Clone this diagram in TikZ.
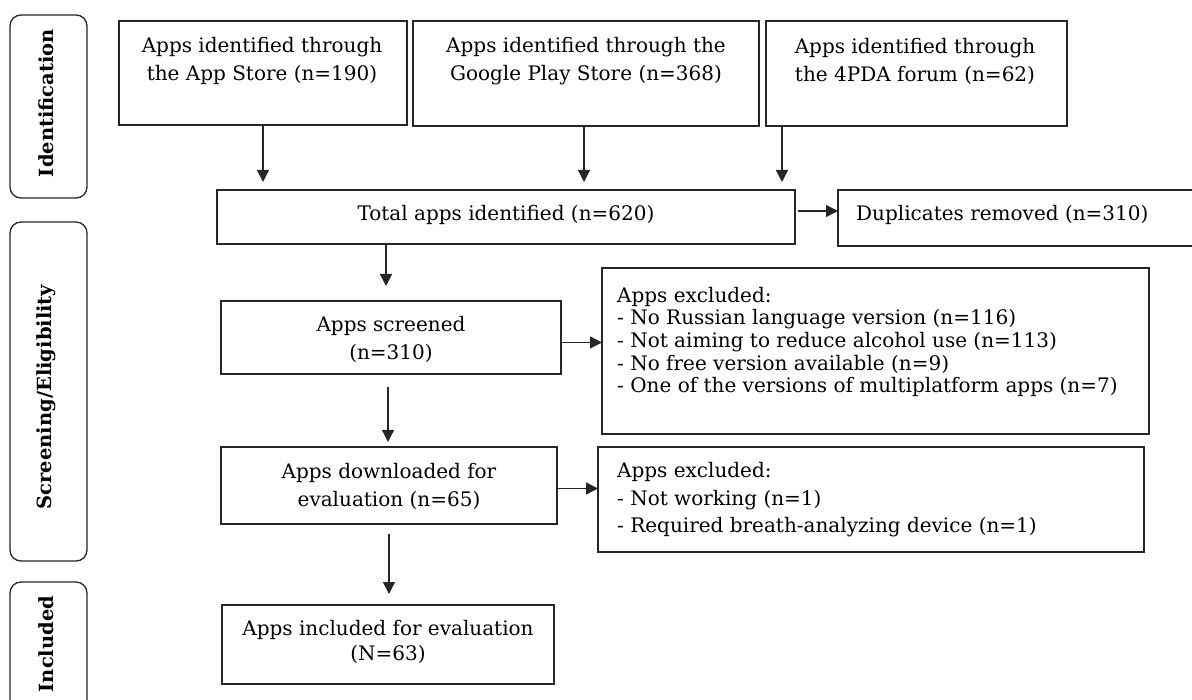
\documentclass[tikz,border=0pt]{standalone}
\usepackage{fontspec}
\setmainfont{DejaVu Serif}
\usetikzlibrary{arrows.meta}
\begin{document}
\begin{tikzpicture}[x=1pt,y=-1pt,
  box/.style={draw=black!85, line width=1.3pt, inner sep=0pt, outer sep=0pt, anchor=north west},
  phase/.style={box, rounded corners=11pt},
  txt/.style={inner sep=0pt, align=center, font=\fontsize{20}{28}\selectfont},
  ltxt/.style={inner sep=0pt, align=left, anchor=west, font=\fontsize{20}{28}\selectfont},
  ptxt/.style={inner sep=0pt, rotate=90, font=\fontsize{19.5}{24}\selectfont\bfseries},
  arr/.style={line width=1.3pt, draw=black!85, -{Triangle[length=12pt,width=12pt]}}]
\clip (0,0) rectangle (1192,700);
\fill[white] (0,0) rectangle (1192,700);
% phase boxes
\node[phase, minimum width=77pt, minimum height=183pt] (p1) at (10,15) {};
\node[ptxt] (p1t) at (46,103) {Identification};
\node[phase, minimum width=77pt, minimum height=339pt] (p2) at (10,222) {};
\node[ptxt] (p2t) at (46,397) {Screening/Eligibility};
\node[phase, minimum width=77pt, minimum height=140pt] (p3) at (10,582) {};
\node[ptxt] (p3t) at (46,644) {Included};
% identification boxes
\node[box, minimum width=288pt, minimum height=104pt] (b1) at (119,21) {};
\node[txt] (b1t) at (262,61) {Apps identified through\\the App Store (n=190)};
\node[box, minimum width=346pt, minimum height=105pt] (b2) at (413,21) {};
\node[txt] (b2t) at (586,61) {Apps identified through the\\Google Play Store (n=368)};
\node[box, minimum width=301pt, minimum height=105pt] (b3) at (766,21) {};
\node[txt] (b3t) at (915,61) {Apps identified through\\the 4PDA forum (n=62)};
% total
\node[box, minimum width=578pt, minimum height=54pt] (tot) at (217,190) {};
\node[txt] (tott) at (506,215) {Total apps identified (n=620)};
\node[box, minimum width=370pt, minimum height=56pt] (dup) at (838,190) {};
\node[ltxt] (dupt) at (856,215) {Duplicates removed (n=310)};
% screening
\node[box, minimum width=340pt, minimum height=73pt] (scr) at (221,301) {};
\node[txt] (scrt) at (391,339) {Apps screened\\(n=310)};
\node[box, minimum width=547pt, minimum height=166pt] (ex1) at (602,268) {};
\node[ltxt, font=\fontsize{20}{22.6}\selectfont] (ex1t) at (617,342) {Apps excluded:\\- No Russian language version (n=116)\\- Not aiming to reduce alcohol use (n=113)\\- No free version available (n=9)\\- One of the versions of multiplatform apps (n=7)};
\node[box, minimum width=336pt, minimum height=77pt] (dl) at (221,447) {};
\node[txt] (dlt) at (389,486) {Apps downloaded for\\evaluation (n=65)};
\node[box, minimum width=546pt, minimum height=105pt] (ex2) at (598,447) {};
\node[ltxt, font=\fontsize{20}{27.5}\selectfont] (ex2t) at (617,500) {Apps excluded:\\- Not working (n=1)\\- Required breath-analyzing device (n=1)};
% included
\node[box, minimum width=332pt, minimum height=79pt] (inc) at (222,605) {};
\node[txt, font=\fontsize{20}{25}\selectfont] (inct) at (388,642) {Apps included for evaluation\\(N=63)};
% arrows
\draw[arr, shorten >=8pt] (b1.south) -- (b1.south |- tot.north);
\draw[arr, shorten >=8pt] ([xshift=-2pt]b2.south) -- ([xshift=-2pt]b2.south |- tot.north);
\draw[arr, shorten >=8pt] ([xshift=16pt]b3.south west) -- ([xshift=16pt]b3.south west |- tot.north);
\draw[arr, shorten <=3pt] ([yshift=6pt]tot.east) -- ([yshift=6pt]tot.east -| dup.west);
\draw[arr, shorten >=15pt] ([xshift=-5pt]scr.north |- tot.south) -- ([xshift=-5pt]scr.north);
\draw[arr, shorten <=13pt, shorten >=5pt] ([xshift=-3pt]scr.south) -- ([xshift=-3pt]scr.south |- dl.north);
\draw[arr] ([yshift=-5pt]scr.east) -- ([yshift=-5pt]scr.east -| ex1.west);
\draw[arr] ([yshift=-3pt]dl.east) -- ([yshift=-3pt]dl.east -| ex2.west);
\draw[arr, shorten <=10pt, shorten >=11pt] (dl.south) -- (dl.south |- inc.north);
\end{tikzpicture}
\end{document}
